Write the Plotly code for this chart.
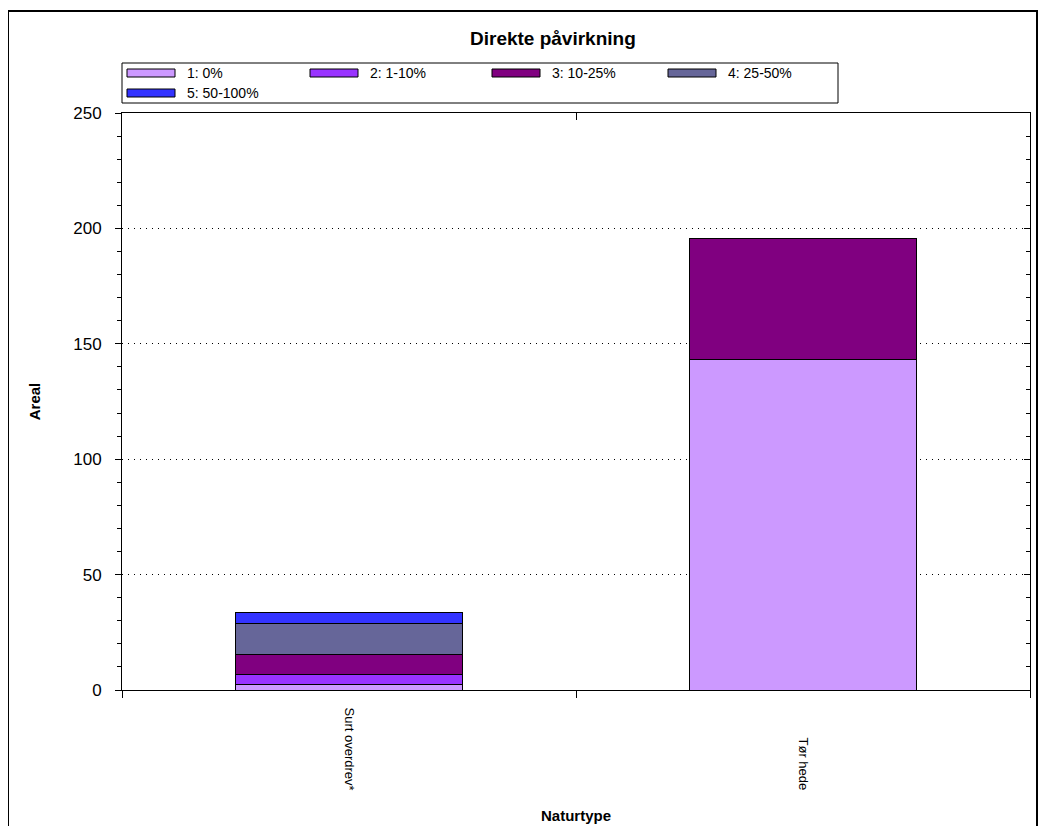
import plotly.graph_objects as go

categories = ["Surt overdrev*", "Tør hede"]
series_names = ["1: 0%", "2: 1-10%", "3: 10-25%", "4: 25-50%", "5: 50-100%"]
series_values = [
    [2.3, 143.0],
    [4.3, 0.0],
    [9.0, 52.8],
    [13.3, 0.0],
    [4.8, 0.0],
]
series_colors = ["#CC99FF", "#9933FF", "#800080", "#666699", "#3333FF"]
y_ticks = [0, 50, 100, 150, 200, 250]

OFF = 8  # page body margin
W, H = 1046 - 2 * OFF, 834 - 2 * OFF
L, R, T, B = 122 - OFF, 1030 - OFF, 113 - OFF, 690 - OFF
PW, PH = R - L, B - T

def px(xp):
    return (xp - OFF - L) / PW

def py(yp):
    return (B - (yp - OFF)) / PH

FONT = "Liberation Sans, Arial, sans-serif"

fig = go.Figure()
for name, vals, col in zip(series_names, series_values, series_colors):
    fig.add_trace(go.Bar(
        x=categories, y=vals, name=name, width=0.5,
        marker=dict(color=col, line=dict(color="black", width=1)),
        showlegend=False,
    ))

shapes = []
annotations = []
# outer frame
shapes.append(dict(type="rect", xref="paper", yref="paper",
                   x0=px(8), x1=px(1037), y0=py(845), y1=py(11),
                   line=dict(color="black", width=2), fillcolor="rgba(0,0,0,0)", layer="below"))
# legend box
shapes.append(dict(type="rect", xref="paper", yref="paper",
                   x0=px(122), x1=px(838), y0=py(103), y1=py(63),
                   line=dict(color="black", width=1), fillcolor="white"))
item_x = [127, 310, 492, 668]
for i, (name, col) in enumerate(zip(series_names, series_colors)):
    row, c = divmod(i, 4)
    x0 = item_x[c]
    yc = 73 + row * 20
    shapes.append(dict(type="rect", xref="paper", yref="paper",
                       x0=px(x0), x1=px(x0 + 48), y0=py(yc + 4), y1=py(yc - 4),
                       line=dict(color="black", width=1), fillcolor=col))
    annotations.append(dict(xref="paper", yref="paper", x=px(x0 + 58), y=py(yc),
                            text=name, showarrow=False, xanchor="left", yanchor="middle",
                            font=dict(family=FONT, size=14, color="black")))

# category labels, rotated and bottom-aligned as in the reference
for cat in categories:
    annotations.append(dict(xref="x", yref="paper", x=cat, y=py(792),
                            text=cat, showarrow=False, textangle=90,
                            xanchor="center", yanchor="bottom",
                            font=dict(family=FONT, size=13, color="black")))

annotations.append(dict(xref="paper", yref="paper", x=px(553), y=py(39),
                        text="<b>Direkte påvirkning</b>", showarrow=False,
                        xanchor="center", yanchor="middle",
                        font=dict(family=FONT, size=19, color="black")))

fig.update_layout(
    width=W, height=H,
    margin=dict(l=L, r=W - R, t=T, b=H - B, autoexpand=False),
    paper_bgcolor="white", plot_bgcolor="white",
    barmode="stack", bargap=0.5,
    showlegend=False,
    shapes=shapes, annotations=annotations,
    font=dict(family=FONT, color="black"),
    xaxis=dict(
        type="category", categoryorder="array", categoryarray=categories,
        range=[-0.5, 1.5], tickson="boundaries", ticks="outside", ticklen=7,
        tickcolor="black", tickwidth=1, showticklabels=False,
        showline=True, linecolor="black", linewidth=1, mirror=True,
        showgrid=False, zeroline=False,
        title=dict(text="<b>Naturtype</b>", font=dict(family=FONT, size=15), standoff=120),
    ),
    xaxis2=dict(
        type="category", matches="x", overlaying="x", side="top",
        tickson="boundaries", ticks="inside", ticklen=7, tickcolor="black",
        showticklabels=False, showgrid=False, zeroline=False, showline=False,
    ),
    yaxis=dict(
        range=[0, 250], tickvals=y_ticks, ticks="outside", ticklen=6,
        tickcolor="black", tickwidth=1, ticklabelstandoff=10,
        tickfont=dict(family=FONT, size=17, color="black"),
        minor=dict(dtick=10, ticks="outside", ticklen=4, tickcolor="black", showgrid=False),
        showline=True, linecolor="black", linewidth=1,
        showgrid=True, gridcolor="black", griddash="1px,5px", gridwidth=1,
        zeroline=False,
        title=dict(text="<b>Areal</b>", font=dict(family=FONT, size=15), standoff=28),
    ),
    yaxis2=dict(
        range=[0, 250], matches="y", overlaying="y", side="right",
        tickvals=y_ticks, ticks="inside", ticklen=6, tickcolor="black",
        minor=dict(dtick=10, ticks="inside", ticklen=4, tickcolor="black", showgrid=False),
        showticklabels=False, showgrid=False, zeroline=False,
        showline=True, linecolor="black", linewidth=1,
    ),
)
# invisible trace to activate the overlay axes
fig.add_trace(go.Bar(x=categories, y=[0, 0], xaxis="x2", yaxis="y2",
                     showlegend=False, hoverinfo="skip", marker=dict(color="rgba(0,0,0,0)")))

fig.write_html("out.html")
